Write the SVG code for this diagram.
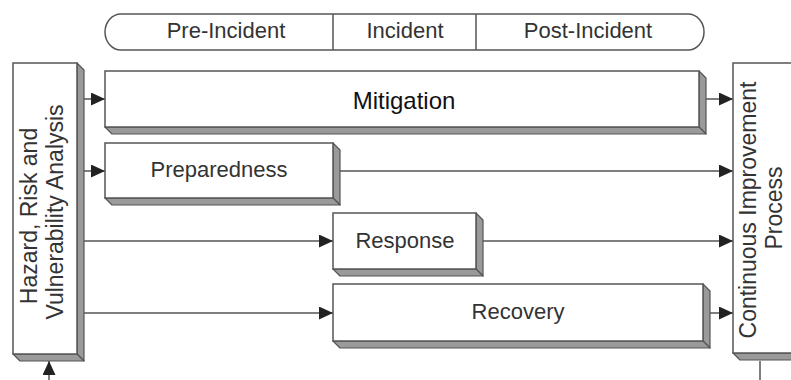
<svg xmlns="http://www.w3.org/2000/svg" width="791" height="380" viewBox="0 0 791 380">
<defs>
<style>
.face{fill:#fff;stroke:#555;stroke-width:1.5}
.side{fill:#9a9a9a;stroke:#555;stroke-width:1.2;stroke-linejoin:round}
.lbl{font-family:"Liberation Sans",Arial,sans-serif;font-size:22px;fill:#333;text-anchor:middle}
.vl{font-family:"Liberation Sans",Arial,sans-serif;font-size:23px;fill:#333;text-anchor:middle}
.conn{stroke:#555;stroke-width:1.5;fill:none}
</style>
<marker id="arr" markerUnits="userSpaceOnUse" markerWidth="16" markerHeight="14" refX="14" refY="6.5" orient="auto">
<path d="M0,0 L14,6.5 L0,13 Z" fill="#222"/>
</marker>
</defs>
<rect width="791" height="380" fill="#fff"/>

<g id="phases">
<rect x="105" y="14" width="599" height="36" rx="16" ry="18" class="face"/>
<line x1="333" y1="14" x2="333" y2="50" class="conn"/>
<line x1="476" y1="14" x2="476" y2="50" class="conn"/>
<text x="226" y="38" class="lbl">Pre-Incident</text>
<text x="405" y="38" class="lbl">Incident</text>
<text x="588" y="38" class="lbl">Post-Incident</text>
</g>

<g id="connectors">
<line x1="84" y1="99" x2="105" y2="99" class="conn" marker-end="url(#arr)"/>
<line x1="84" y1="171" x2="105" y2="171" class="conn" marker-end="url(#arr)"/>
<line x1="84" y1="241" x2="333" y2="241" class="conn" marker-end="url(#arr)"/>
<line x1="84" y1="313" x2="333" y2="313" class="conn" marker-end="url(#arr)"/>
<line x1="700" y1="99" x2="733" y2="99" class="conn" marker-end="url(#arr)"/>
<line x1="333" y1="171" x2="733" y2="171" class="conn" marker-end="url(#arr)"/>
<line x1="476" y1="241" x2="733" y2="241" class="conn" marker-end="url(#arr)"/>
<line x1="703" y1="313" x2="733" y2="313" class="conn" marker-end="url(#arr)"/>
<line x1="49" y1="380" x2="49" y2="361" class="conn" marker-end="url(#arr)"/>
<line x1="760" y1="361" x2="760" y2="380" class="conn"/>
</g>

<g id="hazard">
<polygon points="77,63 84,70 84,361 77,354" class="side"/>
<polygon points="13,354 77,354 84,361 20,361" class="side"/>
<rect x="13" y="63" width="64" height="291" class="face"/>
<text transform="translate(37,216) rotate(-90)" class="vl">Hazard, Risk and</text>
<text transform="translate(63,212) rotate(-90)" class="vl">Vulnerability Analysis</text>
</g>

<g id="mitigation">
<polygon points="699,71 706,78 706,134 699,127" class="side"/>
<polygon points="105,127 699,127 706,134 112,134" class="side"/>
<rect x="105" y="71" width="594" height="56" class="face"/>
<text x="404" y="109" class="lbl" style="font-size:24px;fill:#111">Mitigation</text>
</g>

<g id="preparedness">
<polygon points="333,143 340,150 340,205 333,198" class="side"/>
<polygon points="105,198 333,198 340,205 112,205" class="side"/>
<rect x="105" y="143" width="228" height="55" class="face"/>
<text x="219" y="177" class="lbl">Preparedness</text>
</g>

<g id="response">
<polygon points="476,213 483,220 483,276 476,269" class="side"/>
<polygon points="333,269 476,269 483,276 340,276" class="side"/>
<rect x="333" y="213" width="143" height="56" class="face"/>
<text x="405" y="248" class="lbl">Response</text>
</g>

<g id="recovery">
<polygon points="703,284 710,291 710,348 703,341" class="side"/>
<polygon points="333,341 703,341 710,348 340,348" class="side"/>
<rect x="333" y="284" width="370" height="57" class="face"/>
<text x="518" y="319" class="lbl">Recovery</text>
</g>

<g id="continuous">
<polygon points="733,353 803,353 810,360 740,360" class="side"/>
<rect x="733" y="63" width="70" height="290" class="face"/>
<text transform="translate(756,210) rotate(-90)" class="vl">Continuous Improvement</text>
<text transform="translate(782,208) rotate(-90)" class="vl">Process</text>
</g>
</svg>
